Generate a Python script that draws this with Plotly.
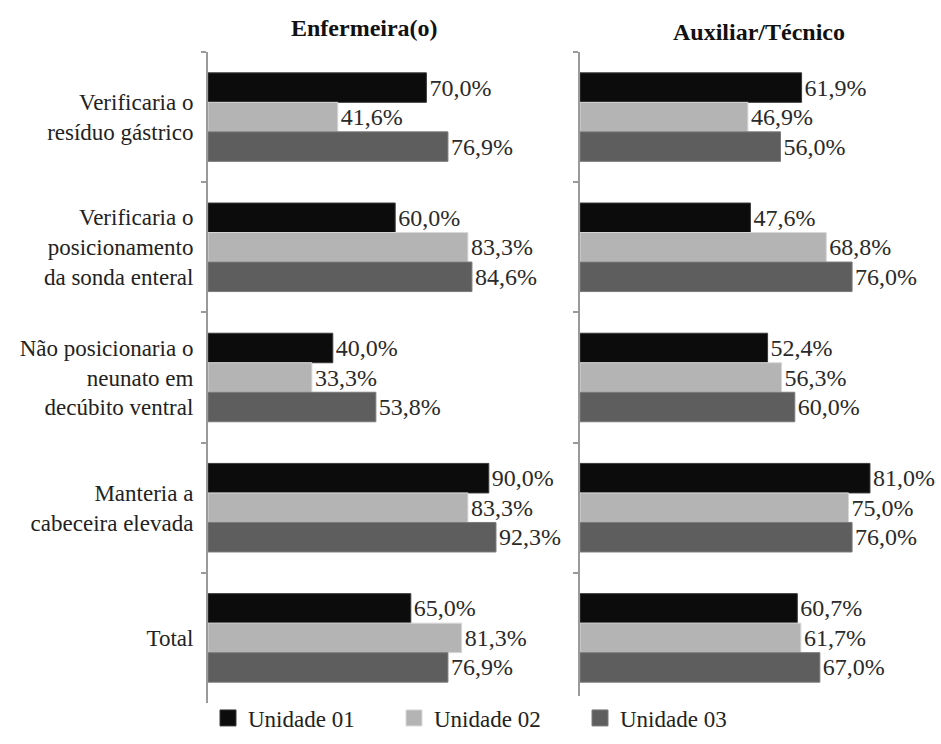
import plotly.graph_objects as go

categories = [
    "Verificaria o<br>resíduo gástrico",
    "Verificaria o<br>posicionamento<br>da sonda enteral",
    "Não posicionaria o<br>neunato em<br>decúbito ventral",
    "Manteria a<br>cabeceira elevada",
    "Total",
]
series_names = ["Unidade 01", "Unidade 02", "Unidade 03"]

enf_u1 = [70.0, 60.0, 40.0, 90.0, 65.0]
enf_u2 = [41.6, 83.3, 33.3, 83.3, 81.3]
enf_u3 = [76.9, 84.6, 53.8, 92.3, 76.9]

aux_u1 = [61.9, 47.6, 52.4, 81.0, 60.7]
aux_u2 = [46.9, 68.8, 56.3, 75.0, 61.7]
aux_u3 = [56.0, 76.0, 60.0, 76.0, 67.0]

panel_titles = ["Enfermeira(o)", "Auxiliar/Técnico"]

colors = ["#0c0c0c", "#b4b4b4", "#5e5e5e"]
edge_colors = ["#3a3a3a", "#d8d8d8", "#7a7a7a"]

FONT = "Liberation Serif"

def fmt(v):
    return f"{v:.1f}".replace(".", ",") + "%"

fig = go.Figure()

panels = [("x", "y", [enf_u1, enf_u2, enf_u3]), ("x2", "y2", [aux_u1, aux_u2, aux_u3])]
for pi, (xa, ya, data) in enumerate(panels):
    for si, vals in enumerate(data):
        fig.add_trace(go.Bar(
            x=vals, y=categories, orientation="h",
            name=series_names[si],
            marker=dict(color=colors[si], line=dict(color=edge_colors[si], width=1)),
            text=[fmt(v) for v in vals],
            textposition="outside",
            textfont=dict(family=FONT, size=24, color="#2a2a2a"),
            constraintext="none",
            cliponaxis=False,
            xaxis=xa, yaxis=ya,
            showlegend=False,
        ))

# legend entries
for si, name in enumerate(series_names):
    fig.add_trace(go.Scatter(
        x=[None], y=[None], mode="markers", name=name,
        marker=dict(symbol="square", size=18, color=colors[si],
                    line=dict(color=edge_colors[si], width=1)),
        xaxis="x", yaxis="y", showlegend=True,
    ))

W, H = 941, 744
ml, mr, mt, mb = 208, 3, 52, 41
pw = W - ml - mr
left_end = 312 / pw
right_start = (580 - ml) / pw

axis_common = dict(showgrid=False, zeroline=False, showticklabels=False, showline=False, ticks="")
fig.update_layout(
    width=W, height=H,
    margin=dict(l=ml, r=mr, t=mt, b=mb, autoexpand=False),
    paper_bgcolor="white", plot_bgcolor="white",
    barmode="group", bargap=0.32, bargroupgap=0,
    font=dict(family=FONT, size=23, color="#222"),
    xaxis=dict(domain=[0, left_end], range=[0, 100], **axis_common),
    xaxis2=dict(domain=[right_start, 1], range=[0, 100], **axis_common),
    yaxis=dict(autorange="reversed", anchor="x", showline=True, linecolor="#9a9a9a", linewidth=2,
               ticks="outside", tickson="boundaries", ticklen=5, tickcolor="#9a9a9a", tickwidth=1.5,
               tickfont=dict(family=FONT, size=23, color="#222"), showgrid=False, ticklabelstandoff=8),
    yaxis2=dict(autorange="reversed", anchor="x2", matches="y", showline=True, linecolor="#9a9a9a", linewidth=2,
                ticks="outside", tickson="boundaries", ticklen=5, tickcolor="#9a9a9a", tickwidth=1.5,
                showticklabels=False, showgrid=False),
    legend=dict(orientation="h", x=0, xanchor="left", y=-0.023, yanchor="middle",
                entrywidth=141, entrywidthmode="pixels",
                font=dict(family=FONT, size=23, color="#222"), traceorder="normal"),
)

fig.add_annotation(text="<b>" + panel_titles[0] + "</b>", xref="x domain", yref="paper",
                   x=0.5, y=1, yanchor="middle", yshift=24, showarrow=False,
                   font=dict(family=FONT, size=24, color="#111"))
fig.add_annotation(text="<b>" + panel_titles[1] + "</b>", xref="x2 domain", yref="paper",
                   x=0.5, y=1, yanchor="middle", yshift=20, showarrow=False,
                   font=dict(family=FONT, size=24, color="#111"))

fig.write_html("out.html")
